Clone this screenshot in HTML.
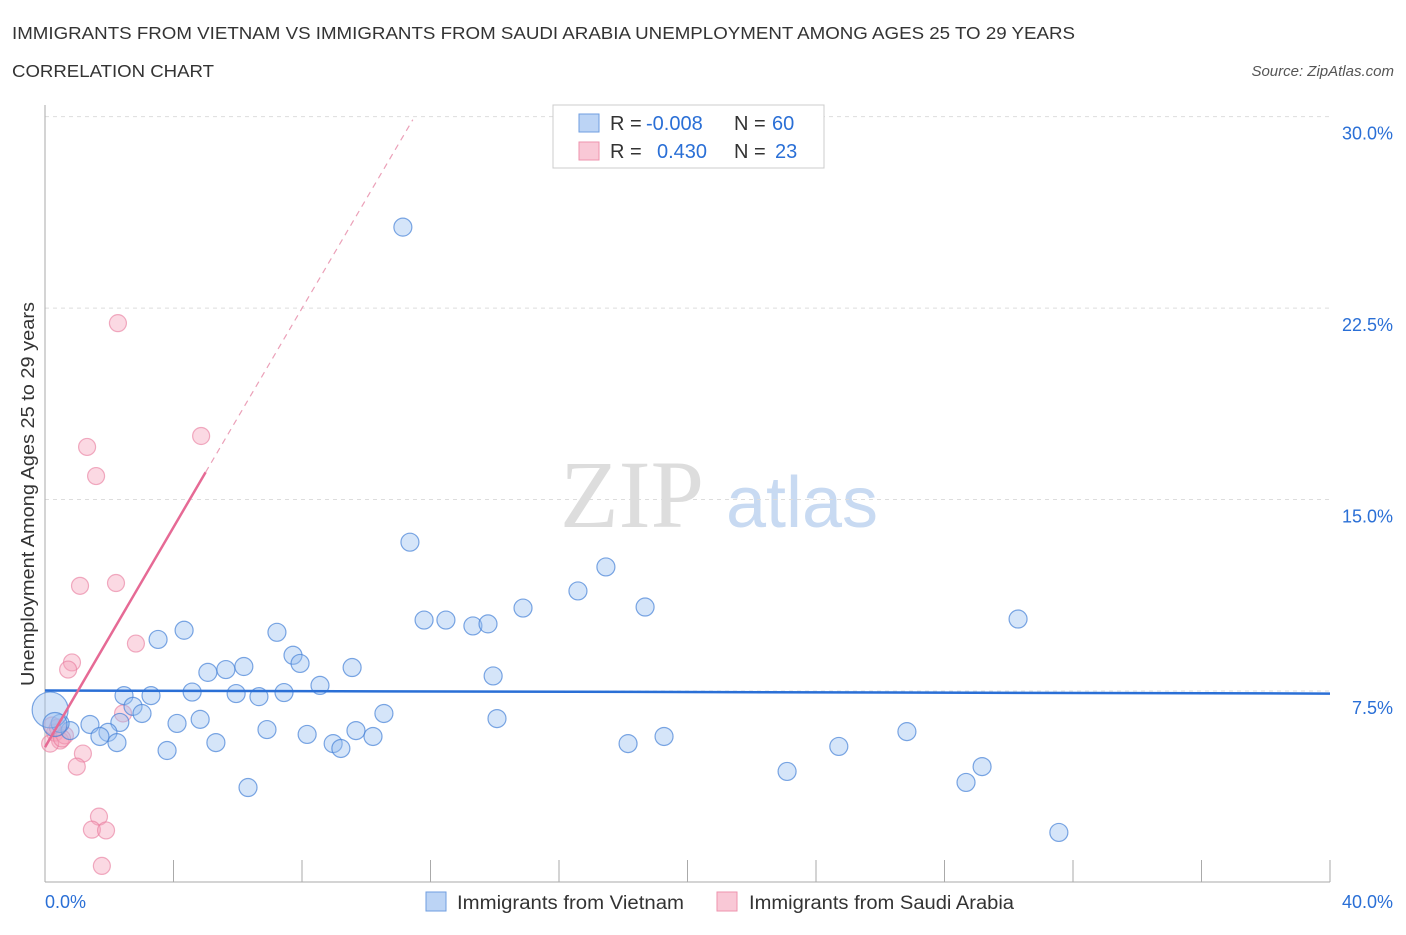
<!DOCTYPE html>
<html><head><meta charset="utf-8"><style>
body{margin:0;background:#fff;font-family:"Liberation Sans",sans-serif;}
</style></head><body>
<svg width="1406" height="930" xmlns="http://www.w3.org/2000/svg">
<text x="12" y="39" font-size="17.5" fill="#333" textLength="1063" lengthAdjust="spacingAndGlyphs">IMMIGRANTS FROM VIETNAM VS IMMIGRANTS FROM SAUDI ARABIA UNEMPLOYMENT AMONG AGES 25 TO 29 YEARS</text>
<text x="12" y="77" font-size="17.5" fill="#333" textLength="202" lengthAdjust="spacingAndGlyphs">CORRELATION CHART</text>
<text x="1394" y="76" font-size="15" fill="#555" font-style="italic" text-anchor="end">Source: ZipAtlas.com</text>
<text x="632" y="527" font-size="96" fill="#ddd" font-family="Liberation Serif" text-anchor="middle">ZIP</text>
<text x="802" y="527" font-size="72" fill="#c8daf2" text-anchor="middle">atlas</text>
<g id="grid"></g>
<g id="axes"></g>
<text transform="translate(34,494) rotate(-90)" font-size="18" fill="#333" text-anchor="middle" textLength="384" lengthAdjust="spacingAndGlyphs">Unemployment Among Ages 25 to 29 years</text>
<g id="pink"></g><g id="blue"></g><g id="trends"></g>
<g>
<rect x="553" y="105" width="271" height="63" fill="#fff" stroke="#ccc"/>
<rect x="579" y="114" width="20" height="18" fill="#bcd4f5" stroke="#6f9ee0"/>
<rect x="579" y="142" width="20" height="18" fill="#f9c8d6" stroke="#ee93ae"/>
<text x="610" y="130" font-size="20" fill="#333">R =</text>
<text x="646" y="130" font-size="20" fill="#2a6fd6">-0.008</text>
<text x="734" y="130" font-size="20" fill="#333">N =</text>
<text x="772" y="130" font-size="20" fill="#2a6fd6">60</text>
<text x="610" y="158" font-size="20" fill="#333">R =</text>
<text x="657" y="158" font-size="20" fill="#2a6fd6">0.430</text>
<text x="734" y="158" font-size="20" fill="#333">N =</text>
<text x="775" y="158" font-size="20" fill="#2a6fd6">23</text>
</g>
<g>
<rect x="426" y="892" width="20" height="19" fill="#bcd4f5" stroke="#6f9ee0"/>
<text x="457" y="909" font-size="19" fill="#333" textLength="227" lengthAdjust="spacingAndGlyphs">Immigrants from Vietnam</text>
<rect x="717" y="892" width="20" height="19" fill="#f9c8d6" stroke="#ee93ae"/>
<text x="749" y="909" font-size="19" fill="#333" textLength="265" lengthAdjust="spacingAndGlyphs">Immigrants from Saudi Arabia</text>
</g>
</svg>
<script>
const xTicks=[0,4,8,12,16,20,24,28,32,36,40];
const yTicks=[7.5,15,22.5,30];
const yTickLabels=["7.5%","15.0%","22.5%","30.0%"];
const blueX=[11.14,11.36,17.46,16.59,14.88,18.68,11.8,12.48,13.32,13.79,30.29,4.33,3.52,7.22,7.72,7.94,9.56,6.19,5.63,5.07,13.95,8.56,4.58,3.3,2.46,5.95,6.66,7.44,2.74,3.02,10.55,14.07,4.83,4.11,1.4,2.33,1.96,1.71,0.78,0.47,6.91,8.16,9.68,10.21,8.97,9.21,5.32,2.24,3.8,18.15,19.27,26.83,24.71,23.1,29.17,28.67,6.32,31.56,0.16,0.31];
const blueY=[25.67,13.33,12.36,11.42,10.75,10.79,10.28,10.28,10.05,10.13,10.32,9.88,9.52,9.8,8.9,8.58,8.42,8.46,8.34,8.23,8.09,7.72,7.46,7.32,7.32,7.4,7.28,7.44,6.9,6.62,6.62,6.42,6.39,6.23,6.19,6.27,5.88,5.72,5.95,6.23,5.99,5.8,5.95,5.72,5.44,5.25,5.48,5.48,5.17,5.44,5.72,5.91,5.33,4.35,4.54,3.92,3.72,1.96,6.76,6.19];
const blueR=[9,9,9,9,9,9,9,9,9,9,9,9,9,9,9,9,9,9,9,9,9,9,9,9,9,9,9,9,9,9,9,9,9,9,9,9,9,9,9,9,9,9,9,9,9,9,9,9,9,9,9,9,9,9,9,9,9,9,18,12];
const pinkX=[2.27,4.86,1.31,1.59,1.09,2.21,2.83,0.84,0.72,2.43,0.31,0.47,0.16,0.22,0.62,1.18,0.99,1.68,1.46,1.9,1.77,0.4,0.53];
const pinkY=[21.91,17.49,17.06,15.92,11.62,11.73,9.36,8.62,8.34,6.62,5.87,5.56,5.44,6.15,5.76,5.05,4.54,2.58,2.07,2.04,0.65,6.07,5.64];
const blueTrend=[[0,7.52],[40,7.4]];
const pinkTrend=[[0,5.3],[5,16.07],[11.45,29.88]];
const NS="http://www.w3.org/2000/svg";
const X=v=>45+v*32.125, Y=v=>882.5-v*25.53;
function mk(t,a,p){const e=document.createElementNS(NS,t);for(const k in a)e.setAttribute(k,a[k]);p.appendChild(e);return e;}
const grid=document.getElementById('grid'),axes=document.getElementById('axes');
yTicks.forEach((t,i)=>{const g=mk('line',{x1:45,x2:1330,y1:Y(t),y2:Y(t),stroke:'#ddd','stroke-dasharray':'4,4'},grid);

const l=mk('text',{x:1393,y:Y(t)+23,'font-size':18,fill:'#2a6fd6','text-anchor':'end'},axes);l.textContent=yTickLabels[i];
});
mk('line',{x1:45,x2:45,y1:105,y2:882,stroke:'#aaa'},axes);
mk('line',{x1:45,x2:1330,y1:882,y2:882,stroke:'#aaa'},axes);
xTicks.forEach(t=>{const k=mk('line',{x1:X(t),x2:X(t),y1:860,y2:882,stroke:'#aaa'},axes);});
let a=mk('text',{x:45,y:908,'font-size':18,fill:'#2a6fd6'},axes);a.textContent='0.0%';
a=mk('text',{x:1393,y:908,'font-size':18,fill:'#2a6fd6','text-anchor':'end'},axes);a.textContent='40.0%';
const pg=document.getElementById('pink'),bg=document.getElementById('blue');
pinkX.forEach((v,i)=>{const c=mk('circle',{cx:X(v),cy:Y(pinkY[i]),r:8.5,fill:'rgba(244,160,185,0.4)',stroke:'rgba(232,120,155,0.6)','stroke-width':1.2},pg);
});
blueX.forEach((v,i)=>{const c=mk('circle',{cx:X(v),cy:Y(blueY[i]),r:blueR[i],fill:'rgba(150,190,240,0.4)',stroke:'rgba(70,130,215,0.7)','stroke-width':1.2},bg);
});
const tg=document.getElementById('trends');
let t=mk('line',{x1:X(blueTrend[0][0]),y1:Y(blueTrend[0][1]),x2:X(blueTrend[1][0]),y2:Y(blueTrend[1][1]),stroke:'#2a6fd6','stroke-width':2.5},tg);

t=mk('line',{x1:X(pinkTrend[0][0]),y1:Y(pinkTrend[0][1]),x2:X(pinkTrend[1][0]),y2:Y(pinkTrend[1][1]),stroke:'#e66a95','stroke-width':2.5},tg);

t=mk('line',{x1:X(pinkTrend[1][0]),y1:Y(pinkTrend[1][1]),x2:X(pinkTrend[2][0]),y2:Y(pinkTrend[2][1]),stroke:'#eba0b8','stroke-width':1.2,'stroke-dasharray':'6,5'},tg);

</script>
</body></html>
